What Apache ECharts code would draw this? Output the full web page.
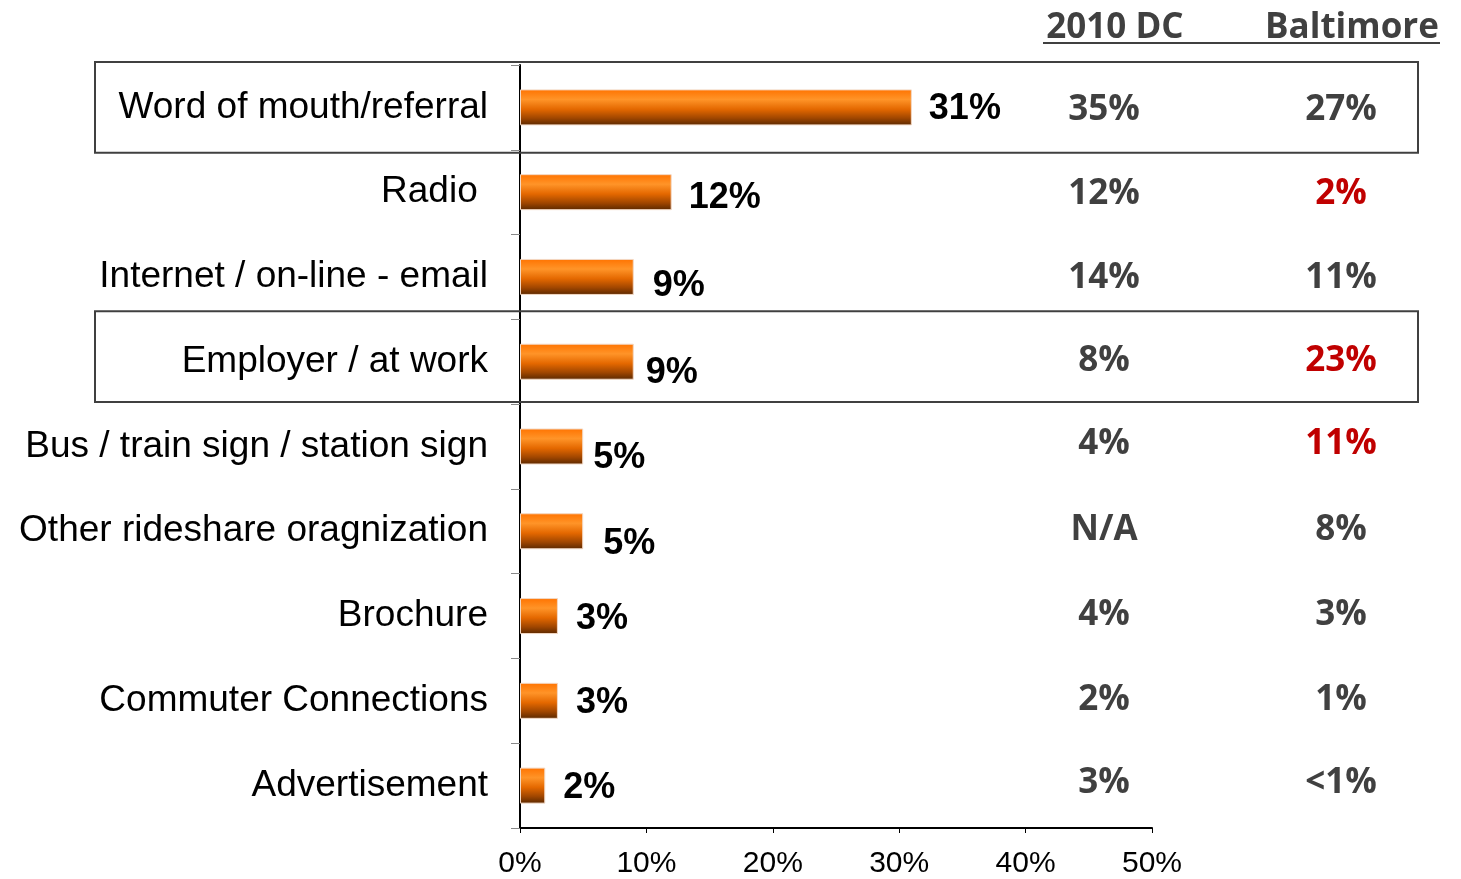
<!DOCTYPE html>
<html>
<head>
<meta charset="utf-8">
<script src="https://cdn.jsdelivr.net/npm/echarts@6/dist/echarts.min.js"></script>
<style>
  html, body { margin: 0; padding: 0; background: #fff; }
  #chart { width: 1461px; height: 879px; }
</style>
</head>
<body>
<div id="chart"></div>
<script>
// How respondents heard about the program (percent), with comparison columns
const categories = [
  'Word of mouth/referral',
  'Radio ',
  'Internet / on-line - email',
  'Employer / at work',
  'Bus / train sign / station sign',
  'Other rideshare oragnization',
  'Brochure',
  'Commuter Connections',
  'Advertisement'
];
const shareValues = [31, 12, 9, 9, 5, 5, 3, 3, 2];

const compareHeaders = ['2010 DC', 'Baltimore'];
const dc2010 = ['35%', '12%', '14%', '8%', '4%', 'N/A', '4%', '2%', '3%'];
const baltimore = ['27%', '2%', '11%', '23%', '11%', '8%', '3%', '1%', '<1%'];
// Baltimore figures shown in red
const baltimoreHighlight = [false, true, false, true, true, false, false, false, false];

const xTicks = [0, 10, 20, 30, 40, 50];

// Rows framed with a box
const boxedRows = [0, 3];

// Label nudges for the bar value labels: [dx, dy]
const labelNudge = [[0, 2], [0, 6], [2, 9], [-5, 11], [-7, 12], [3, 13], [1, 3], [1, 2], [1, 2]];
// Vertical nudges for the comparison column text
const tableNudge = [3, 2, 1, -1, -2, -1, -1, -1, -3];

const chart = echarts.init(document.getElementById('chart'), null, { renderer: 'canvas' });

const barGradient = new echarts.graphic.LinearGradient(0, 0, 0, 1, [
  { offset: 0, color: '#ff7300' },
  { offset: 0.28, color: '#ff9428' },
  { offset: 0.55, color: '#e46800' },
  { offset: 0.8, color: '#a04600' },
  { offset: 1, color: '#5a2800' }
]);

const barData = shareValues.map((v, i) => ({
  value: v,
  label: { offset: labelNudge[i] }
}));

const tableData = [];
categories.forEach((c, i) => {
  tableData.push({
    value: [0, i],
    text: dc2010[i],
    label: { offset: [0, tableNudge[i]], color: '#404040' }
  });
  tableData.push({
    value: [1, i],
    text: baltimore[i],
    label: { offset: [0, tableNudge[i]], color: baltimoreHighlight[i] ? '#c00000' : '#404040' }
  });
});

const option = {
  animation: false,
  backgroundColor: '#ffffff',
  grid: [
    { left: 520, width: 632, top: 65, height: 763, containLabel: false },
    { left: 985.5, width: 474, top: 65, height: 763, containLabel: false }
  ],
  xAxis: [
    {
      gridIndex: 0,
      type: 'value',
      min: xTicks[0],
      max: xTicks[xTicks.length - 1],
      interval: 10,
      axisLine: { show: true, lineStyle: { color: '#000', width: 2 } },
      axisTick: { show: true, length: 5, lineStyle: { color: '#000', width: 1 } },
      splitLine: { show: false },
      axisLabel: {
        formatter: '{value}%',
        color: '#000',
        fontFamily: 'Liberation Sans, Arial, sans-serif',
        fontSize: 30,
        margin: 21
      }
    },
    {
      gridIndex: 1,
      type: 'category',
      position: 'top',
      data: compareHeaders,
      axisLine: { show: false },
      axisTick: { show: false },
      splitLine: { show: false },
      axisLabel: {
        color: '#404040',
        fontFamily: 'Open Sans, sans-serif',
        fontWeight: 'bold',
        fontSize: 35,
        margin: 19,
        padding: [0, 0, 0, 22]
      }
    }
  ],
  yAxis: [
    {
      gridIndex: 0,
      type: 'category',
      inverse: true,
      data: categories,
      axisLine: { show: true, lineStyle: { color: '#000', width: 2 } },
      axisTick: { show: true, length: 9, lineStyle: { color: '#888', width: 1 } },
      splitLine: { show: false },
      axisLabel: {
        color: '#000',
        fontFamily: 'Liberation Sans, Arial, sans-serif',
        fontSize: 37,
        margin: 32,
        padding: [4, 0, 0, 0]
      }
    },
    {
      gridIndex: 1,
      type: 'category',
      inverse: true,
      data: categories,
      show: false
    }
  ],
  series: [
    {
      type: 'bar',
      xAxisIndex: 0,
      yAxisIndex: 0,
      data: barData,
      barWidth: 36,
      itemStyle: { color: barGradient, borderColor: '#f3d8c4', borderWidth: 1 },
      label: {
        show: true,
        position: 'right',
        distance: 17,
        formatter: '{c}%',
        color: '#000',
        fontFamily: 'Liberation Sans, Arial, sans-serif',
        fontWeight: 'bold',
        fontSize: 36
      },
      z: 3
    },
    {
      type: 'scatter',
      xAxisIndex: 1,
      yAxisIndex: 1,
      data: tableData,
      symbolSize: 1,
      itemStyle: { color: 'transparent', opacity: 1 },
      label: {
        show: true,
        position: 'inside',
        formatter: p => p.data.text,
        fontFamily: 'Open Sans, sans-serif',
        fontWeight: 'bold',
        fontSize: 35,
        opacity: 1,
        textBorderWidth: 0
      },
      z: 4
    }
  ]
};

chart.setOption(option);

// Frames around highlighted rows and the header underline
function drawDecorations() {
  const bandTop = chart.convertToPixel({ gridIndex: 0 }, [0, 0])[1];
  const bandNext = chart.convertToPixel({ gridIndex: 0 }, [0, 1])[1];
  const band = bandNext - bandTop;
  const boxLeft = 95, boxRight = 1418;
  const graphics = boxedRows.map((row, k) => {
    const cy = chart.convertToPixel({ gridIndex: 0 }, [0, row])[1] + (k === 0 ? 0 : -5);
    const h = band + 6;
    return {
      type: 'rect',
      shape: { x: boxLeft, y: cy - h / 2, width: boxRight - boxLeft, height: h },
      style: { fill: 'none', stroke: '#404040', lineWidth: 2 },
      z: 10
    };
  });
  graphics.push({
    type: 'line',
    shape: { x1: 1043, y1: 43, x2: 1440, y2: 43 },
    style: { stroke: '#404040', lineWidth: 2 },
    z: 10
  });
  chart.setOption({ graphic: graphics });
}
drawDecorations();
</script>
</body>
</html>
